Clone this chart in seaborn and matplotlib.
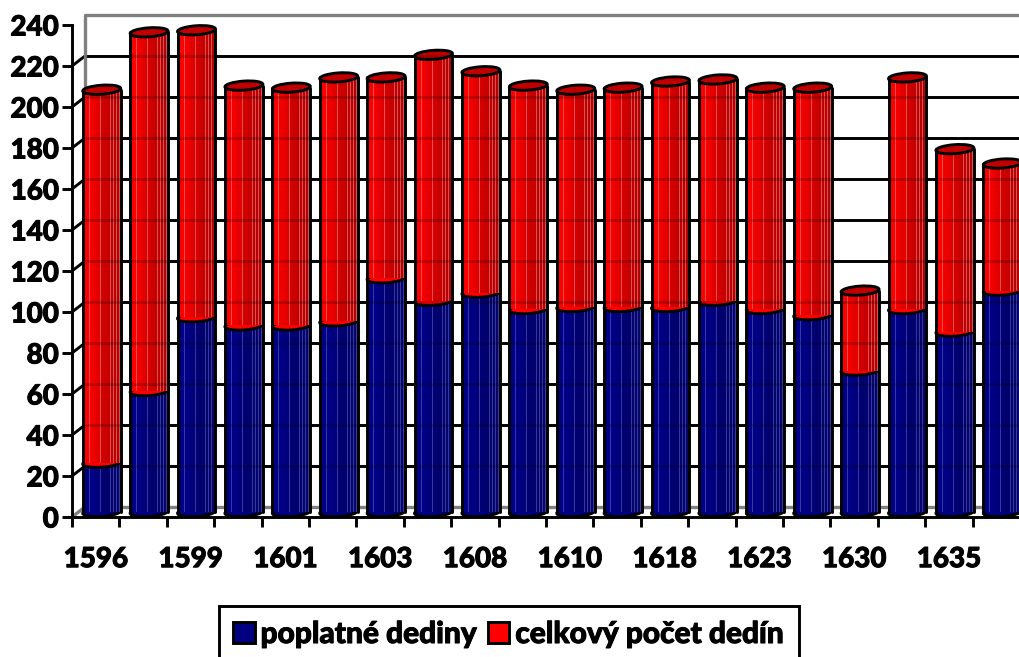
import numpy as np
import pandas as pd
import matplotlib.pyplot as plt
import matplotlib.patheffects as pe
import seaborn as sns
from matplotlib.lines import Line2D
from matplotlib.patches import Ellipse, Patch
from matplotlib.transforms import Affine2D, IdentityTransform

# only every second category label is printed in the chart
year_labels = ["1596", "1599", "1601", "1603", "1608", "1610", "1618", "1623", "1630", "1635"]
y_ticks = list(range(0, 241, 20))
poplatne = [24, 59, 95, 91, 91, 93, 114, 103, 107, 99, 100, 100, 100, 103, 99, 96, 69, 99, 88, 108]
celkovy = [206, 234, 235, 208, 207, 212, 212, 223, 215, 208, 206, 207, 210, 211, 207, 207, 108, 212, 177, 170]

FIG_W, FIG_H = 1019, 657
GRAY = "#808080"
BLUE = "#000080"
RED = "#ff0000"
LINE = 2.1


def shade(stops, streak):
    """One row of pixels across a cylinder, light on the left, dark on the right."""
    pos = np.linspace(0, 1, 38)
    row = np.stack([np.interp(pos, [s[0] for s in stops], [s[1][c] for s in stops]) for c in range(3)], axis=1)
    for i in [6, 17, 27, 30, 33, 36]:
        row[i] = streak
    return row[np.newaxis, :, :] / 255


red_row = shade([(0, (240, 0, 0)), (0.12, (255, 0, 0)), (0.55, (208, 0, 0)), (1, (170, 5, 5))], (222, 80, 80))
blue_row = shade([(0, (0, 0, 120)), (0.15, (0, 0, 140)), (0.55, (0, 0, 112)), (1, (8, 8, 105))], (55, 55, 160))

sns.set_style("white")
plt.rcParams["font.family"] = ["Lato", "DejaVu Sans"]
plt.rcParams["font.weight"] = "black"
plt.rcParams["text.color"] = "black"

df = pd.DataFrame({"pos": range(len(celkovy)), "poplatne": poplatne, "celkovy": celkovy})

fig = plt.figure(figsize=(FIG_W / 100, FIG_H / 100), dpi=100)
ax = fig.add_axes([72 / FIG_W, (FIG_H - 517) / FIG_H, 948 / FIG_W, 492 / FIG_H])

sns.barplot(data=df, x="pos", y="celkovy", color=RED, width=0.8, saturation=1, ax=ax, zorder=3)
sns.barplot(data=df, x="pos", y="poplatne", color=BLUE, width=0.8, saturation=1, ax=ax, zorder=3)

ax.set_xlim(-0.5, 19.5)
ax.set_ylim(0, 240)
ax.set_xlabel("")
ax.set_ylabel("")
sns.despine(ax=ax)
for side in ["left", "bottom"]:
    ax.spines[side].set_color("black")
    ax.spines[side].set_linewidth(LINE)

# walls, floor and grid sit 13px right and 10px up from the front axes
back = ax.transData + Affine2D().translate(13, 10)
mid = ax.transData + Affine2D().translate(6, 5)
for val in y_ticks:
    edge = val in (0, 240)
    col = GRAY if edge else "black"
    lw = 2.4 if edge else LINE
    ax.plot([-0.5, 19.5], [val, val], color=col, lw=lw, transform=back, zorder=1, clip_on=False,
            solid_capstyle="butt")
    x0, y0 = ax.transData.transform((-0.5, val))
    ax.add_line(Line2D([x0, x0 + 13], [y0, y0 + 10], color=col, lw=lw, transform=IdentityTransform(), zorder=1))
    # the grid shows through the cylinders a little
    if not edge:
        ax.plot([-0.5, 19.5], [val, val], color="black", lw=LINE, alpha=0.2, transform=back, zorder=8,
                clip_on=False, solid_capstyle="butt")
ax.plot([-0.5, -0.5], [0, 240], color=GRAY, lw=2.4, transform=back, zorder=1, clip_on=False)

red_bars = ax.containers[0]
blue_bars = ax.containers[1]


def ring(x_px, y_px, face, z):
    ax.add_patch(Ellipse((x_px, y_px), 38, 9, angle=4, facecolor=face, edgecolor="black", lw=LINE,
                         transform=IdentityTransform(), zorder=z, clip_on=False))


for red_bar, blue_bar, low, top in zip(red_bars, blue_bars, poplatne, celkovy):
    x0, w = red_bar.get_x(), red_bar.get_width()
    for bar in (red_bar, blue_bar):
        bar.set_transform(mid)
        bar.set_edgecolor("none")
        bar.set_clip_on(False)
    for row, y0, y1, z in [(blue_row, 0, low, 3.2), (red_row, low, top, 5)]:
        im = ax.imshow(row, extent=[x0, x0 + w, y0, y1], aspect="auto", interpolation="nearest", zorder=z)
        im.set_transform(mid)
        im.set_clip_on(False)
    for xs in (x0, x0 + w):
        ax.plot([xs, xs], [0, top], color="black", lw=LINE, transform=mid, zorder=6, clip_on=False)
    xc = x0 + w / 2
    px0 = mid.transform((xc, 0))
    px1 = mid.transform((xc, low))
    px2 = mid.transform((xc, top))
    ring(px0[0], px0[1], BLUE, 2)
    ring(px1[0], px1[1], RED, 4)
    ring(px2[0], px2[1], "#c00000", 7)

ax.set_xlim(-0.5, 19.5)
ax.set_ylim(0, 240)

ax.set_yticks(y_ticks)
ax.set_yticklabels([str(v) for v in y_ticks])
ax.tick_params(axis="y", left=True, length=7.5, width=LINE, color="black", labelsize=20, pad=2, labelcolor="black")
ax.set_xticks(np.arange(-0.5, 20, 1))
ax.set_xticklabels([])
ax.set_xticks(np.arange(0, 20, 2), labels=year_labels, minor=True)
ax.tick_params(axis="x", which="major", bottom=True, length=7.5, width=LINE, color="black")
ax.tick_params(axis="x", which="minor", bottom=False, labelsize=20, pad=19, labelcolor="black")

handles = [Patch(facecolor=BLUE, edgecolor="black", lw=LINE), Patch(facecolor=RED, edgecolor="black", lw=LINE)]
leg = fig.legend(handles, ["poplatné dediny", "celkový počet dedín"], ncol=2, loc="upper left",
                 bbox_to_anchor=(219 / FIG_W, 1 - 606 / FIG_H), bbox_transform=fig.transFigure,
                 frameon=True, fancybox=False, framealpha=1, edgecolor="black", fontsize=21.5,
                 labelcolor="black", borderaxespad=0, borderpad=0.47, handlelength=0.72, handleheight=0.72,
                 handletextpad=0.2, columnspacing=0.35)
leg.get_frame().set_linewidth(LINE)

# fatten the letters a little, the original type is very heavy
thick = [pe.withStroke(linewidth=0.7, foreground="black")]
for txt in ax.get_yticklabels() + ax.get_xticklabels(minor=True) + leg.get_texts():
    txt.set_path_effects(thick)

fig.savefig("out.png", dpi=100)
